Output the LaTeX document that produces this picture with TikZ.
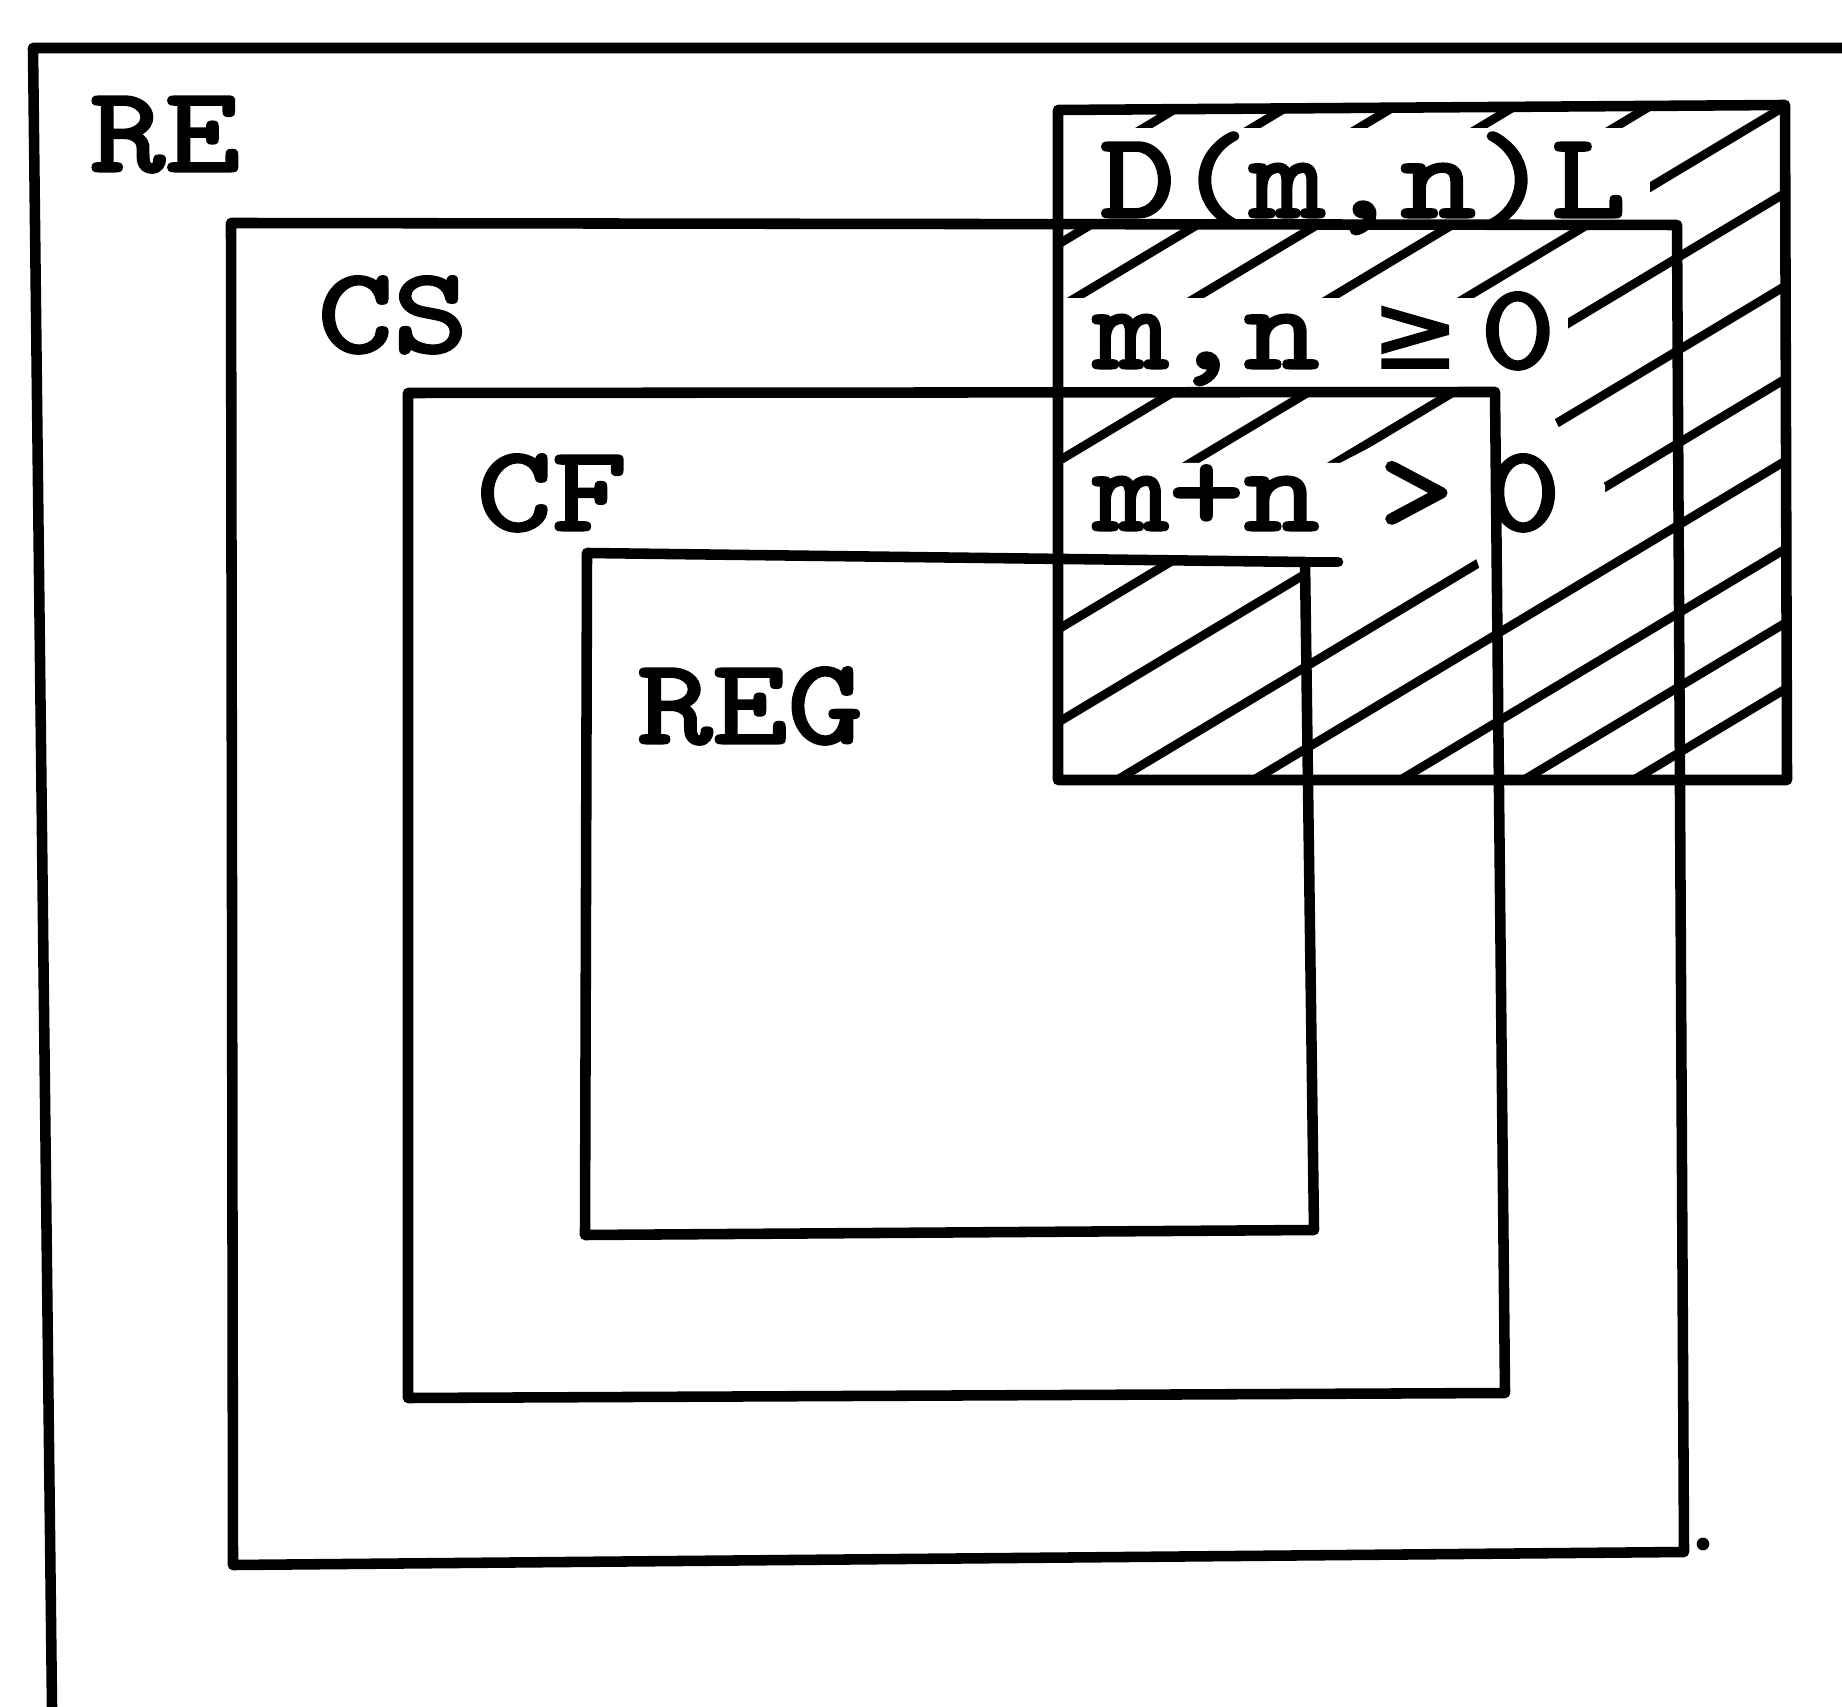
\documentclass[tikz,border=0pt]{standalone}
\usepackage{fontspec}
\newfontfamily\twfont{lmmono10-regular.otf}[FakeBold=2.5,FakeStretch=1.18]
\newfontfamily\symfont{DejaVu Sans}[FakeBold=1.5]
\newcommand{\geglyph}{\makebox[17pt][c]{\symfont\fontsize{30}{30}\selectfont ≥}}
\begin{document}
\begin{tikzpicture}[x=0.01cm,y=-0.01cm,
  frame/.style={line width=3pt, line join=round, line cap=round},
  hatch/.style={line width=2.5pt, line cap=round},
  mask/.style={fill=white, draw=none},
  lbl/.style={font=\twfont\fontsize{34.5}{34.5}\selectfont, inner sep=0pt, anchor=base}]
\fill[white] (0,0) rectangle (1842,1707);
\useasboundingbox (0,0) rectangle (1842,1707);

% hatching of the D(m,n)L region
\begin{scope}
\clip (1058,108) rectangle (1787,780);
\foreach \Y in {-258,-193,-129,-57,24,105,192,285,378,460,548,622,688}
  \draw[hatch] (1000,{\Y+472.2}) -- (1850,{\Y-37.8});
\end{scope}

% clear bands behind the texts
\fill[mask] (1058,128) rectangle (1650,226);
\fill[mask] (1058,298) rectangle (1568,392);
\fill[mask] (1058,463) -- (1340,463) -- (1443,410) -- (1550,410) -- (1560,430)
  -- (1605,485) -- (1605,505) -- (1480,570) -- (1470,540) -- (1306,588)
  -- (1306,563) -- (1058,563) -- cycle;

% boxes
\draw[frame] (1842,48) -- (33,48) -- (52,1707);
\draw[frame] (231,223) -- (1677,225) -- (1684,1552) -- (233,1565) -- cycle;
\draw[frame] (408,393) -- (1495,392) -- (1505,1393) -- (408,1398) -- cycle;
\draw[frame] (587,553) -- (1305,562) -- (1314,1230) -- (585,1235) -- cycle;
\draw[frame] (1305,562) -- (1338,562);
\draw[frame] (1058,110) -- (1785,105) -- (1787,780) -- (1058,780) -- cycle;
\fill (1703,1544) circle[radius=1.8pt];

% labels
\node[lbl] (re)  at (165,171) {RE};
\node[lbl] (cs)  at (393,352) {CS};
\node[lbl] (cf)  at (552,530) {CF};
\node[lbl] (reg) at (750,743) {REG};
\node[lbl] (dl)  at (1363,217) {D(m,n)L};
\node[lbl, anchor=base west] (ge) at (1093,368) {m,n\hspace{18.8pt}\geglyph\hspace{10pt}0};
\node[lbl, anchor=base west] (gt) at (1093,530) {m+n\hspace{17pt}>\hspace{9pt}0};
\end{tikzpicture}
\end{document}
